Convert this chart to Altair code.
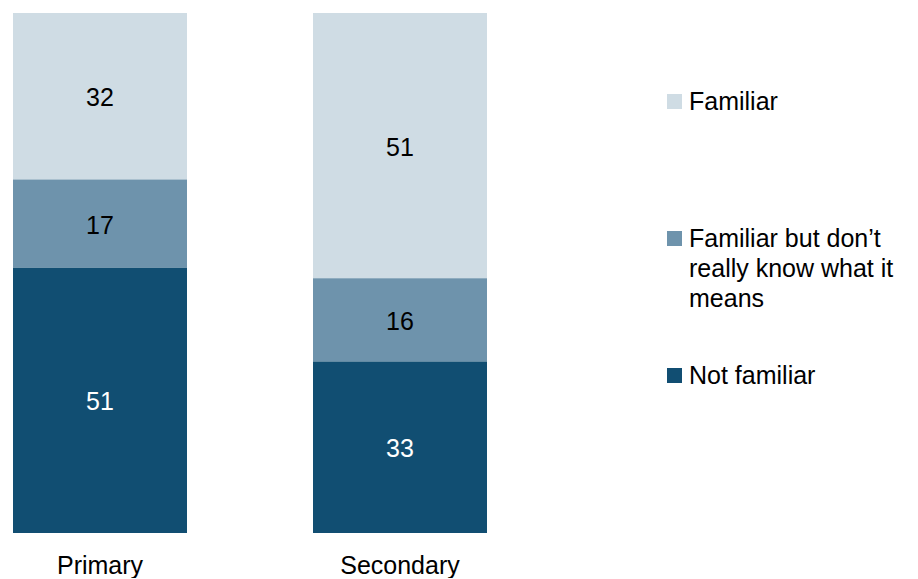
import altair as alt
import pandas as pd

levels = ["Primary", "Secondary"]
categories = ["Familiar", "Familiar but don’t really know what it means", "Not familiar"]
primary_vals = [32, 17, 51]
secondary_vals = [51, 16, 33]
colors = ["#CFDCE4", "#6E93AC", "#114E72"]
stack_rank = [2, 1, 0]
text_colors = ["black", "black", "white"]

rows = []
for lvl, vals in zip(levels, [primary_vals, secondary_vals]):
    for cat, v, r, tc in zip(categories, vals, stack_rank, text_colors):
        rows.append({"level": lvl, "category": cat, "value": v, "rank": r, "tcolor": tc})
df = pd.DataFrame(rows)

FONT = "Liberation Sans"

x = alt.X("level:N", sort=levels, title=None,
          scale=alt.Scale(paddingInner=0.42, paddingOuter=0),
          axis=alt.Axis(labelAngle=0, labelFontSize=25, labelFont=FONT, labelColor="black",
                        ticks=False, domain=False, labelPadding=20))

bars = alt.Chart(df).mark_bar().encode(
    x=x,
    y=alt.Y("value:Q", stack="zero", scale=alt.Scale(domain=[0, 100]), axis=None),
    color=alt.Color("category:N",
                    scale=alt.Scale(domain=categories, range=colors),
                    legend=alt.Legend(
                        title=None, orient="none", legendX=649, legendY=76,
                        symbolType="square", symbolSize=225, symbolStrokeWidth=0,
                        labelFont=FONT, labelFontSize=25, labelColor="black",
                        labelBaseline="middle", labelOffset=2,
                        labelLimit=400, gridAlign="all", rowPadding=51, padding=0,
                        labelExpr="datum.label == 'Familiar but don’t really know what it means' ? ['Familiar but don’t', 'really know what it', 'means'] : datum.label",
                    )),
    order=alt.Order("rank:Q", sort="ascending"),
)

texts = alt.Chart(df).transform_stack(
    stack="value", groupby=["level"], as_=["v0", "v1"], sort=[alt.SortField("rank", order="ascending")]
).transform_calculate(
    mid="(datum.v0 + datum.v1) / 2"
).mark_text(font=FONT, fontSize=25, baseline="middle", dy=2).encode(
    x=x,
    y=alt.Y("mid:Q", scale=alt.Scale(domain=[0, 100]), axis=None),
    text=alt.Text("value:Q"),
    color=alt.Color("tcolor:N", scale=None, legend=None),
)

chart = alt.layer(bars, texts).properties(
    width=474, height=520,
    padding={"left": 5, "top": 5, "right": 5, "bottom": 0},
).configure(
    style={"guide-label": {"lineHeight": 30}},
    view=alt.ViewConfig(stroke=None),
)

chart.save("out.html", embed_options={"renderer": "svg", "actions": False})
